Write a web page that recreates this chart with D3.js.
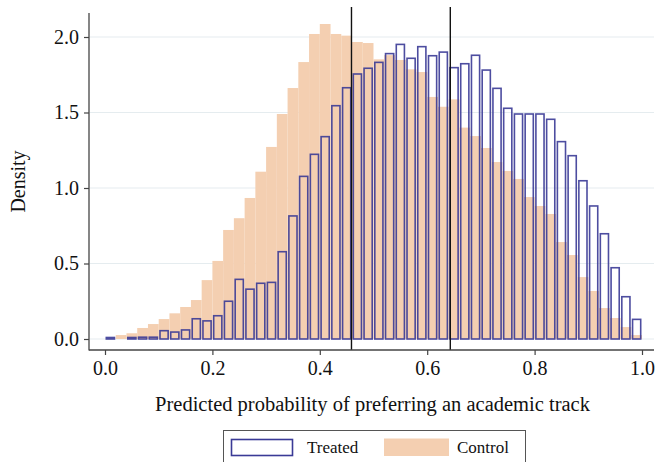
<!DOCTYPE html>
<html>
<head>
<meta charset="utf-8">
<script src="https://cdn.jsdelivr.net/npm/d3@7"></script>
<style>
  html, body { margin: 0; padding: 0; background: #fff; }
  svg { display: block; }
  text { font-family: "Liberation Serif", "Times New Roman", serif; fill: #111; }
</style>
</head>
<body>
<svg id="chart" width="659" height="462"></svg>
<script>
// Histogram bins: 50 bins of width 0.02 over [0, 1]
const binStart = 0;
const binWidth = 0.02;

// Density per bin, treated group
const treated = [0.01, 0, 0.01, 0.012, 0.012, 0.055, 0.046, 0.06, 0.134, 0.12,
  0.154, 0.25, 0.395, 0.33, 0.369, 0.375, 0.578, 0.815, 1.077, 1.223,
  1.34, 1.545, 1.664, 1.755, 1.793, 1.832, 1.89, 1.951, 1.859, 1.936,
  1.876, 1.90, 1.797, 1.823, 1.879, 1.781, 1.66, 1.528, 1.49, 1.49,
  1.49, 1.455, 1.307, 1.214, 1.048, 0.881, 0.697, 0.472, 0.28, 0.13];

// Density per bin, control group
const control = [0, 0.026, 0.038, 0.073, 0.099, 0.132, 0.17, 0.212, 0.258, 0.39,
  0.517, 0.722, 0.80, 0.934, 1.108, 1.272, 1.49, 1.662, 1.834, 2.02,
  2.086, 2.02, 2.009, 1.967, 1.96, 1.852, 1.88, 1.848, 1.786, 1.768,
  1.603, 1.538, 1.587, 1.40, 1.344, 1.265, 1.172, 1.113, 1.06, 0.94,
  0.881, 0.828, 0.642, 0.556, 0.41, 0.318, 0.205, 0.139, 0.079, 0.026];

// Reference lines (group means)
const refLines = [0.459, 0.643];

const xTicks = [0, 0.2, 0.4, 0.6, 0.8, 1.0];
const yTicks = [0, 0.5, 1.0, 1.5, 2.0];

const xLabel = "Predicted probability of preferring an academic track";
const yLabel = "Density";
const legendItems = ["Treated", "Control"];

const colTreated = "#3a3a96";
const colControl = "#f4cfb1";

const svg = d3.select("#chart");

const x = d3.scaleLinear().domain([0, 1]).range([105, 642]);
const y = d3.scaleLinear().domain([0, 2]).range([339, 37]);

const plotLeft = 89, plotRight = 654, plotTop = 13, plotBottom = 350;

// Gridlines
svg.append("g")
  .selectAll("line")
  .data(yTicks)
  .join("line")
  .attr("x1", plotLeft + 1).attr("x2", plotRight)
  .attr("y1", d => y(d)).attr("y2", d => y(d))
  .attr("stroke", "#e5ecef").attr("stroke-width", 1.2);

// Control histogram (filled)
svg.append("g")
  .selectAll("rect")
  .data(control)
  .join("rect")
  .attr("x", (d, i) => x(binStart + i * binWidth))
  .attr("width", (d, i) => x(binStart + (i + 1) * binWidth) - x(binStart + i * binWidth))
  .attr("y", d => y(d))
  .attr("height", d => y(0) - y(d))
  .attr("fill", colControl);

// Treated histogram (outline)
const inset = 1.3;
svg.append("g")
  .selectAll("rect")
  .data(treated.map((v, i) => ({ v, i })).filter(d => d.v > 0))
  .join("rect")
  .attr("x", d => x(binStart + d.i * binWidth) + inset)
  .attr("width", d => x(binStart + (d.i + 1) * binWidth) - x(binStart + d.i * binWidth) - 2 * inset)
  .attr("y", d => y(d.v))
  .attr("height", d => y(0) - y(d.v))
  .attr("fill", "none")
  .attr("stroke", colTreated)
  .attr("stroke-width", 1.6)
  .attr("stroke-opacity", 0.9);

// Vertical reference lines
svg.append("g")
  .selectAll("line")
  .data(refLines)
  .join("line")
  .attr("x1", d => x(d)).attr("x2", d => x(d))
  .attr("y1", 7).attr("y2", plotBottom)
  .attr("stroke", "#111").attr("stroke-width", 1.4);

// Axes
const axisColor = "#444";
const tickFont = '"Liberation Serif", "Times New Roman", serif';
const yAxis = svg.append("g")
  .attr("transform", `translate(${plotLeft},0)`)
  .call(d3.axisLeft(y).tickValues(yTicks).tickFormat(d3.format(".1f")).tickSize(5).tickPadding(5));
yAxis.select(".domain").remove();
yAxis.selectAll(".tick line").attr("stroke", axisColor).attr("stroke-width", 1.2);
yAxis.selectAll(".tick text")
  .style("font-family", tickFont)
  .style("font-size", "20px").attr("fill", "#111");

const xAxis = svg.append("g")
  .attr("transform", `translate(0,${plotBottom})`)
  .call(d3.axisBottom(x).tickValues(xTicks).tickFormat(d3.format(".1f")).tickSize(5).tickPadding(6));
xAxis.select(".domain").remove();
xAxis.selectAll(".tick line").attr("stroke", axisColor).attr("stroke-width", 1.2);
xAxis.selectAll(".tick text")
  .style("font-family", tickFont)
  .style("font-size", "20px").attr("fill", "#111");

svg.append("line")
  .attr("x1", plotLeft).attr("x2", plotLeft)
  .attr("y1", plotTop).attr("y2", plotBottom + 0.6)
  .attr("stroke", axisColor).attr("stroke-width", 1.3);
svg.append("line")
  .attr("x1", plotLeft).attr("x2", plotRight)
  .attr("y1", plotBottom).attr("y2", plotBottom)
  .attr("stroke", axisColor).attr("stroke-width", 1.3);

// Axis titles
svg.append("text")
  .attr("x", (plotLeft + plotRight) / 2 + 1).attr("y", 411)
  .attr("text-anchor", "middle")
  .style("font-size", "20.5px")
  .text(xLabel);

svg.append("text")
  .attr("transform", `translate(25,${(plotTop + plotBottom) / 2}) rotate(-90)`)
  .attr("text-anchor", "middle")
  .style("font-size", "20px")
  .text(yLabel);

// Legend
const legend = svg.append("g");
legend.append("rect")
  .attr("x", 223.5).attr("y", 430.5).attr("width", 302).attr("height", 40)
  .attr("fill", "#fff").attr("stroke", "#555").attr("stroke-width", 1);
legend.append("rect")
  .attr("x", 231.5).attr("y", 439.5).attr("width", 61).attr("height", 16)
  .attr("fill", "#fff").attr("stroke", colTreated).attr("stroke-width", 1.6);
legend.append("text")
  .attr("x", 307).attr("y", 453).style("font-size", "17px")
  .text(legendItems[0]);
legend.append("rect")
  .attr("x", 384).attr("y", 438.5).attr("width", 65).attr("height", 17.5)
  .attr("fill", colControl);
legend.append("text")
  .attr("x", 457).attr("y", 453).style("font-size", "17px")
  .text(legendItems[1]);
</script>
</body>
</html>
